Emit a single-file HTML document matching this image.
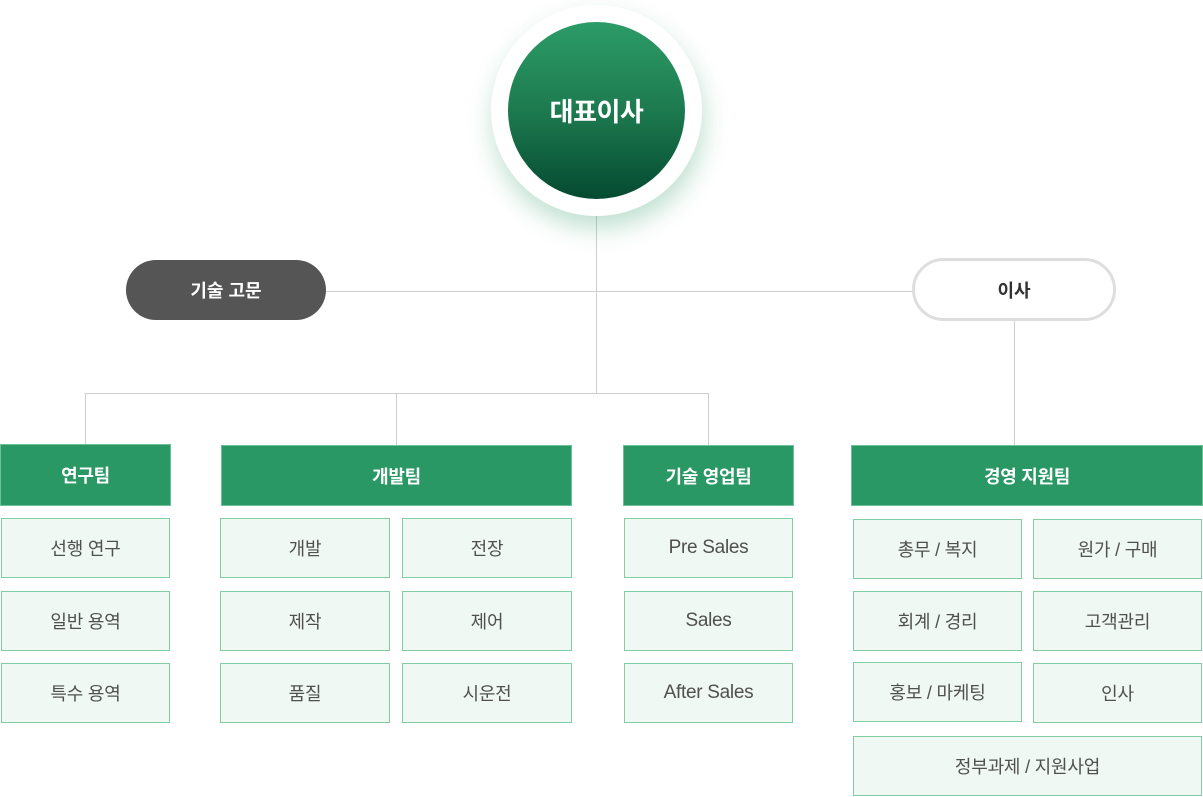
<!DOCTYPE html>
<html><head><meta charset="utf-8">
<style>
*{margin:0;padding:0;box-sizing:border-box}
html,body{width:1203px;height:797px;background:#fff;overflow:hidden}
body{position:relative;font-family:"Liberation Sans","Noto Sans CJK KR",sans-serif}
.a{position:absolute}
.ln{position:absolute;background:#cfcfcf}
.hd{position:absolute;background:#2a9864;border:1px solid #6cc197;color:#fff;font-weight:bold;font-size:18px;display:flex;align-items:center;justify-content:center;letter-spacing:-0.3px}
.sb{position:absolute;background:#eff8f3;border:1.5px solid #82cda3;color:#505050;font-size:18px;display:flex;align-items:center;justify-content:center;letter-spacing:-0.2px}
.en{font-size:19px;letter-spacing:-0.3px}
</style></head><body>
<!-- lines -->
<div class="ln" style="left:596px;top:200px;width:1px;height:194px"></div>
<div class="ln" style="left:326px;top:291px;width:588px;height:1px"></div>
<div class="ln" style="left:85px;top:393px;width:624px;height:1px"></div>
<div class="ln" style="left:85px;top:393px;width:1px;height:52px"></div>
<div class="ln" style="left:396px;top:393px;width:1px;height:52px"></div>
<div class="ln" style="left:708px;top:393px;width:1px;height:52px"></div>
<div class="ln" style="left:1014px;top:320px;width:1px;height:125px"></div>

<!-- CEO -->
<div class="a" style="left:491px;top:5px;width:211px;height:211px;border-radius:50%;background:#fff;box-shadow:2px 12px 24px rgba(42,152,100,0.30)"></div>
<div class="a" style="left:508px;top:22px;width:177px;height:177px;border-radius:50%;background:linear-gradient(180deg,#2c9c67 0%,#1d7a4f 50%,#054a31 100%);color:#fff;font-weight:bold;font-size:26px;display:flex;align-items:center;justify-content:center;letter-spacing:-0.5px">대표이사</div>

<!-- pills -->
<div class="a" style="left:126px;top:260px;width:200px;height:60px;border-radius:30px;background:#555;color:#fff;font-weight:bold;font-size:18px;display:flex;align-items:center;justify-content:center">기술 고문</div>
<div class="a" style="left:912px;top:258px;width:204px;height:63px;border-radius:32px;background:#fff;border:3px solid #dedede;color:#333;font-weight:bold;font-size:18px;display:flex;align-items:center;justify-content:center">이사</div>

<!-- headers -->
<div class="hd" style="left:0px;top:444px;width:171px;height:62px">연구팀</div>
<div class="hd" style="left:221px;top:445px;width:351px;height:61px">개발팀</div>
<div class="hd" style="left:623px;top:445px;width:171px;height:61px">기술 영업팀</div>
<div class="hd" style="left:851px;top:445px;width:352px;height:61px">경영 지원팀</div>

<!-- research -->
<div class="sb" style="left:1px;top:518px;width:169px;height:60px">선행 연구</div>
<div class="sb" style="left:1px;top:591px;width:169px;height:60px">일반 용역</div>
<div class="sb" style="left:1px;top:663px;width:169px;height:60px">특수 용역</div>

<!-- dev -->
<div class="sb" style="left:220px;top:518px;width:170px;height:60px">개발</div>
<div class="sb" style="left:220px;top:591px;width:170px;height:60px">제작</div>
<div class="sb" style="left:220px;top:663px;width:170px;height:60px">품질</div>
<div class="sb" style="left:402px;top:518px;width:170px;height:60px">전장</div>
<div class="sb" style="left:402px;top:591px;width:170px;height:60px">제어</div>
<div class="sb" style="left:402px;top:663px;width:170px;height:60px">시운전</div>

<!-- sales -->
<div class="sb en" style="left:624px;top:518px;width:169px;height:60px">Pre Sales</div>
<div class="sb en" style="left:624px;top:591px;width:169px;height:60px">Sales</div>
<div class="sb en" style="left:624px;top:663px;width:169px;height:60px">After Sales</div>

<!-- management -->
<div class="sb" style="left:853px;top:519px;width:169px;height:60px">총무 / 복지</div>
<div class="sb" style="left:853px;top:591px;width:169px;height:60px">회계 / 경리</div>
<div class="sb" style="left:853px;top:662px;width:169px;height:60px">홍보 / 마케팅</div>
<div class="sb" style="left:1033px;top:519px;width:169px;height:60px">원가 / 구매</div>
<div class="sb" style="left:1033px;top:591px;width:169px;height:60px">고객관리</div>
<div class="sb" style="left:1033px;top:663px;width:169px;height:60px">인사</div>
<div class="sb" style="left:853px;top:736px;width:349px;height:60px">정부과제 / 지원사업</div>
</body></html>
